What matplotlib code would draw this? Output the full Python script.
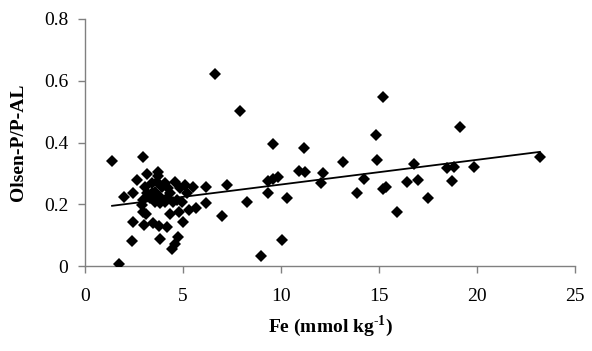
import matplotlib
matplotlib.use("Agg")
import matplotlib.pyplot as plt
import numpy as np

# Fe (mmol kg-1) values
fe = [1.38, 2.98, 1.75, 2.0, 2.47, 2.67, 3.15, 3.71, 3.70, 2.47, 2.41, 3.03,
      3.45, 3.78, 4.17, 3.83, 4.46, 4.59, 4.76, 4.34, 4.80, 5.02, 5.31, 5.66,
      6.16, 6.16, 7.0, 7.26, 2.92, 2.94, 3.13, 3.15, 3.40, 3.57, 3.83, 4.08,
      4.17, 4.34, 4.59, 4.68, 4.85, 5.10, 5.19, 5.49, 4.93, 3.83, 4.08, 4.50,
      3.32, 3.57, 2.98, 3.06, 3.91, 3.40, 3.65, 4.25,
      6.65, 7.91, 9.58, 11.16, 9.35, 9.61, 9.86, 10.93, 11.21, 12.13, 12.03,
      9.35, 10.29, 8.28, 10.04, 9.0,
      15.19, 14.85, 19.12, 13.18, 14.88, 16.8, 18.48, 18.83, 19.85, 14.25,
      13.89, 15.22, 15.36, 16.43, 16.97, 18.74, 17.48, 15.93, 23.2]

# Olsen-P / P-AL ratio values
ratio = [0.341, 0.354, 0.006, 0.222, 0.235, 0.279, 0.297, 0.306, 0.290, 0.144,
         0.082, 0.133, 0.138, 0.130, 0.127, 0.086, 0.054, 0.073, 0.093, 0.167,
         0.176, 0.144, 0.181, 0.187, 0.203, 0.257, 0.162, 0.262, 0.198, 0.176,
         0.170, 0.235, 0.268, 0.241, 0.225, 0.268, 0.219, 0.235, 0.273, 0.214,
         0.252, 0.262, 0.235, 0.257, 0.208, 0.203, 0.208, 0.208, 0.219, 0.208,
         0.214, 0.257, 0.257, 0.235, 0.273, 0.252,
         0.622, 0.502, 0.394, 0.381, 0.276, 0.281, 0.289, 0.308, 0.306, 0.301,
         0.270, 0.237, 0.220, 0.208, 0.084, 0.033,
         0.548, 0.423, 0.449, 0.336, 0.343, 0.329, 0.318, 0.320, 0.321, 0.282,
         0.235, 0.250, 0.257, 0.273, 0.277, 0.274, 0.221, 0.176, 0.354]

# linear trend line
trend_slope = 0.0080
trend_intercept = 0.184

x_ticks = [0, 5, 10, 15, 20, 25]
y_ticks = [0, 0.2, 0.4, 0.6, 0.8]

plt.rcParams['font.family'] = ['Liberation Serif', 'DejaVu Serif']
plt.rcParams['mathtext.fontset'] = 'custom'
plt.rcParams['mathtext.rm'] = 'Liberation Serif'
plt.rcParams['mathtext.bf'] = 'Liberation Serif:bold'

fig = plt.figure(figsize=(5.92, 3.51), dpi=100)
ax = fig.add_axes([0.1436, 0.242, 0.8278, 0.704])

ax.plot(fe, ratio, linestyle='none', marker='D', markersize=5.8,
        color='black', markeredgewidth=0, zorder=3)

xl = np.array([min(fe), max(fe)])
ax.plot(xl, trend_intercept + trend_slope * xl, color='black', lw=1.3, zorder=2)

ax.set_xlim(0, 25)
ax.set_ylim(0, 0.8)
ax.set_xticks(x_ticks)
ax.set_xticklabels([str(v) for v in x_ticks])
ax.set_yticks(y_ticks)
ax.set_yticklabels(['0', '0.2', '0.4', '0.6', '0.8'])

for s in ['top', 'right']:
    ax.spines[s].set_visible(False)
for s in ['left', 'bottom']:
    ax.spines[s].set_color('#808080')
    ax.spines[s].set_linewidth(1.0)
ax.tick_params(axis='both', direction='out', length=5, width=1.0,
               color='#808080', labelsize=14)
ax.tick_params(axis='x', pad=11)
ax.tick_params(axis='y', pad=7)

ax.set_xlabel('Fe (mmol kg$^{\\mathbf{\u20101}}$)',
              fontsize=14, fontweight='bold', labelpad=6)
ax.set_ylabel('Olsen-P/P-AL', fontsize=14, fontweight='bold', labelpad=12)

fig.savefig('out.png', dpi=100, facecolor='white')
